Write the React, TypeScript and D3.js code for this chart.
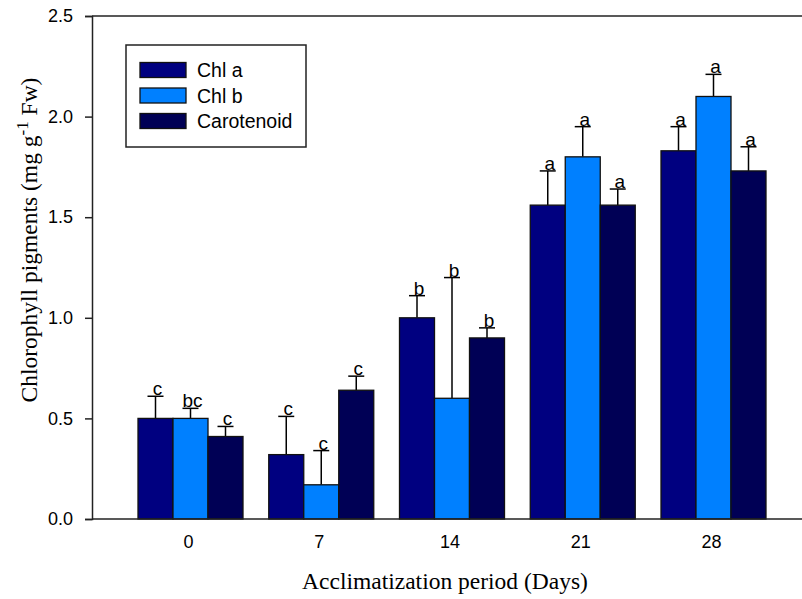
import React, { useEffect, useRef } from "react";
import * as d3 from "d3";

const days = ["0", "7", "14", "21", "28"];
const seriesNames = ["Chl a", "Chl b", "Carotenoid"];
const seriesColors = ["#000080", "#0080ff", "#000055"];

// mean values per series, one entry per day
const chlA = [0.5, 0.32, 1.0, 1.56, 1.83];
const chlB = [0.5, 0.17, 0.6, 1.8, 2.1];
const carotenoid = [0.41, 0.64, 0.9, 1.56, 1.73];

// upper end of the error bars
const chlAErr = [0.61, 0.51, 1.11, 1.73, 1.95];
const chlBErr = [0.55, 0.34, 1.2, 1.95, 2.21];
const carotenoidErr = [0.46, 0.71, 0.95, 1.64, 1.85];

// significance letters
const chlALetters = ["c", "c", "b", "a", "a"];
const chlBLetters = ["bc", "c", "b", "a", "a"];
const carotenoidLetters = ["c", "c", "b", "a", "a"];

const yTicks = [0, 0.5, 1.0, 1.5, 2.0, 2.5];

const App = () => {
  const svgRef = useRef(null);

  useEffect(() => {
    const width = 802;
    const height = 599;
    const left = 92;
    const top = 16;
    const bottom = 519;

    const svg = d3.select(svgRef.current);
    svg.selectAll("*").remove();

    const y = d3.scaleLinear().domain([0, 2.5]).range([bottom, top]);
    const x = d3.scalePoint().domain(days).range([190.5, 713.5]);
    const inner = d3.scaleBand().domain(seriesNames).range([-52.5, 52.5]);

    const values = [chlA, chlB, carotenoid];
    const errs = [chlAErr, chlBErr, carotenoidErr];
    const letters = [chlALetters, chlBLetters, carotenoidLetters];

    const rows = [];
    seriesNames.forEach((s, si) => {
      days.forEach((d, di) => {
        rows.push({
          series: s,
          si,
          day: d,
          value: values[si][di],
          err: errs[si][di],
          letter: letters[si][di],
        });
      });
    });

    const cx = (d) => x(d.day) + inner(d.series) + inner.bandwidth() / 2;

    // error bars (drawn first, bars sit over the lower end)
    const eb = svg.append("g").attr("stroke", "#000").attr("stroke-width", 1.5);
    eb.selectAll("line.v")
      .data(rows)
      .enter()
      .append("line")
      .attr("x1", cx)
      .attr("x2", cx)
      .attr("y1", (d) => y(d.value))
      .attr("y2", (d) => y(d.err));
    eb.selectAll("line.cap")
      .data(rows)
      .enter()
      .append("line")
      .attr("x1", (d) => cx(d) - 8)
      .attr("x2", (d) => cx(d) + 8)
      .attr("y1", (d) => y(d.err))
      .attr("y2", (d) => y(d.err));

    svg
      .append("g")
      .selectAll("rect")
      .data(rows)
      .enter()
      .append("rect")
      .attr("x", (d) => x(d.day) + inner(d.series))
      .attr("y", (d) => y(d.value))
      .attr("width", inner.bandwidth())
      .attr("height", (d) => y(0) - y(d.value))
      .attr("fill", (d) => seriesColors[d.si])
      .attr("stroke", "#111")
      .attr("stroke-width", 1.3);

    svg
      .append("g")
      .selectAll("text")
      .data(rows)
      .enter()
      .append("text")
      .attr("x", (d) => cx(d) + 2)
      .attr("y", (d) => y(d.err) - 1)
      .attr("text-anchor", "middle")
      .attr("font-family", "Liberation Sans, Arial, sans-serif")
      .attr("font-size", 19)
      .text((d) => d.letter);

    // frame (right side falls outside the picture)
    const axisColor = "#222";
    svg.append("line").attr("x1", left).attr("x2", width + 10).attr("y1", top).attr("y2", top)
      .attr("stroke", axisColor).attr("stroke-width", 1.5);
    svg.append("line").attr("x1", left).attr("x2", width + 10).attr("y1", bottom).attr("y2", bottom)
      .attr("stroke", axisColor).attr("stroke-width", 1.5);

    const yAxis = d3
      .axisLeft(y)
      .tickValues(yTicks)
      .tickFormat(d3.format(".1f"))
      .tickSize(7)
      .tickPadding(12);
    const ga = svg
      .append("g")
      .attr("transform", `translate(${left},0)`)
      .call(yAxis);
    ga.select(".domain").attr("stroke", axisColor).attr("stroke-width", 1.5);
    ga.selectAll(".tick line").attr("stroke", axisColor).attr("stroke-width", 1.5);
    ga.selectAll(".tick text")
      .attr("font-family", "Liberation Sans, Arial, sans-serif")
      .attr("font-size", 18)
      .attr("fill", "#000");

    svg
      .append("g")
      .selectAll("text")
      .data(days)
      .enter()
      .append("text")
      .attr("x", (d) => x(d) - 2)
      .attr("y", 548)
      .attr("text-anchor", "middle")
      .attr("font-family", "Liberation Sans, Arial, sans-serif")
      .attr("font-size", 18)
      .text((d) => d);

    // axis titles
    svg
      .append("text")
      .attr("x", 445)
      .attr("y", 589)
      .attr("text-anchor", "middle")
      .attr("font-family", "Liberation Serif, Times New Roman, serif")
      .attr("font-size", 23.5)
      .text("Acclimatization period (Days)");

    const yt = svg
      .append("text")
      .attr("transform", "translate(37,240) rotate(-90)")
      .attr("text-anchor", "middle")
      .attr("font-family", "Liberation Serif, Times New Roman, serif")
      .attr("font-size", 23.5);
    yt.append("tspan").text("Chlorophyll pigments (mg g");
    yt.append("tspan").attr("font-size", 17).attr("dy", -9).text("-1");
    yt.append("tspan").attr("dy", 9).text(" Fw)");

    // legend
    const lg = svg.append("g");
    lg.append("rect")
      .attr("x", 126)
      .attr("y", 45)
      .attr("width", 180)
      .attr("height", 102)
      .attr("fill", "#fff")
      .attr("stroke", axisColor)
      .attr("stroke-width", 1.5);
    seriesNames.forEach((s, i) => {
      const yy = 70 + i * 25.5;
      lg.append("rect")
        .attr("x", 140)
        .attr("y", yy - 7.5)
        .attr("width", 46)
        .attr("height", 15)
        .attr("fill", seriesColors[i])
        .attr("stroke", "#111")
        .attr("stroke-width", 1.3);
      lg.append("text")
        .attr("x", 197)
        .attr("y", yy + 7)
        .attr("font-family", "Liberation Sans, Arial, sans-serif")
        .attr("font-size", 19.5)
        .text(s);
    });

    return () => {
      svg.selectAll("*").remove();
    };
  }, []);

  return (
    <svg
      ref={svgRef}
      width={802}
      height={599}
      style={{ position: "absolute", left: 0, top: 0, background: "#fff" }}
    />
  );
};

export default App;
